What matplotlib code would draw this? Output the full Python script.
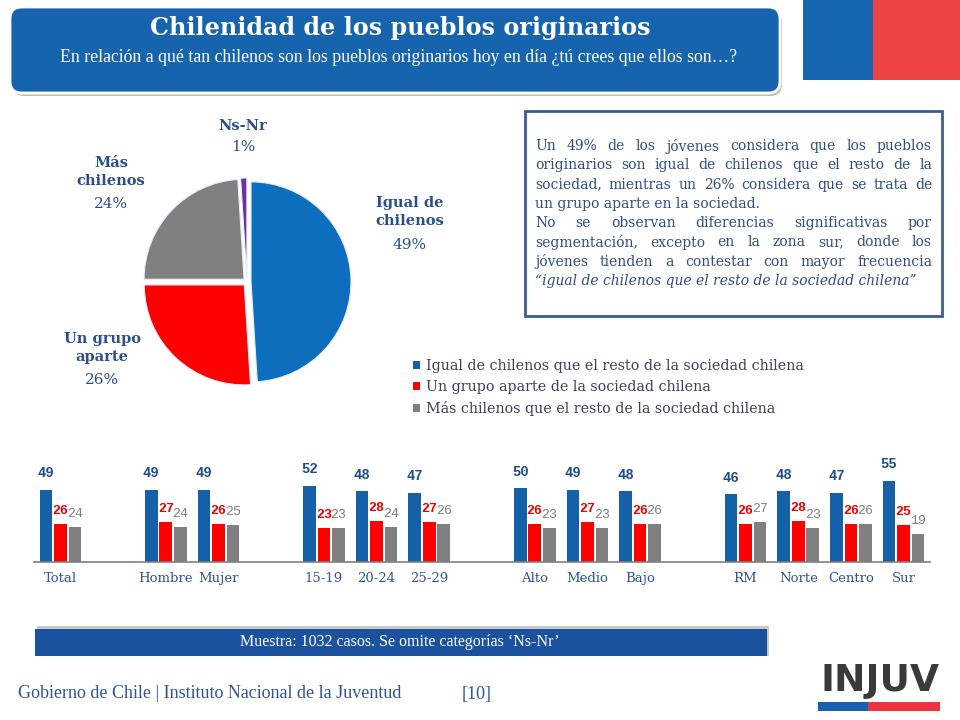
import matplotlib
matplotlib.use('Agg')
import matplotlib.pyplot as plt
from matplotlib import font_manager
from matplotlib.patches import FancyBboxPatch, Rectangle
import numpy as np

# Pie data
pie_names = ["Igual de\nchilenos", "Un grupo\naparte", "Más\nchilenos", "Ns-Nr"]
pie_values = [49, 26, 24, 1]
pie_colors = ["#0E6EBE", "#FF0000", "#808080", "#7030A0"]

# Bar data
categories = ["Total", "Hombre", "Mujer", "15-19", "20-24", "25-29",
              "Alto", "Medio", "Bajo", "RM", "Norte", "Centro", "Sur"]
group_sizes = [1, 2, 3, 3, 4]
igual = [49, 49, 49, 52, 48, 47, 50, 49, 48, 46, 48, 47, 55]
grupo = [26, 27, 26, 23, 28, 27, 26, 27, 26, 26, 28, 26, 25]
mas = [24, 24, 25, 23, 24, 26, 23, 23, 26, 27, 23, 26, 19]
series_names = ["Igual de chilenos que el resto de la sociedad chilena",
                "Un grupo aparte de la sociedad chilena",
                "Más chilenos que el resto de la sociedad chilena"]

TXT_BLUE = "#2A4F8C"
SERIF = "DejaVu Serif"
available = {f.name for f in font_manager.fontManager.ttflist}
NARROW_SERIF = "Liberation Serif" if "Liberation Serif" in available else SERIF
NARROW_SANS = "Liberation Sans Narrow" if "Liberation Sans Narrow" in available else "DejaVu Sans"
MONO = "Liberation Mono" if "Liberation Mono" in available else "DejaVu Sans Mono"

fig = plt.figure(figsize=(9.6, 7.2), dpi=100)
fig.patch.set_facecolor("white")

# background axes in pixel units (x right, y down)
bg = fig.add_axes([0, 0, 1, 1])
bg.set_xlim(0, 960)
bg.set_ylim(720, 0)
bg.axis("off")

# header
bg.add_patch(FancyBboxPatch((12, 10), 770, 86, boxstyle="round,pad=0,rounding_size=12",
                            fc="#BFBFBF", ec="none", zorder=1))
bg.add_patch(FancyBboxPatch((10, 7), 770, 86, boxstyle="round,pad=0,rounding_size=12",
                            fc="#1764AE", ec="white", lw=2, zorder=2))
bg.text(400, 28, "Chilenidad de los pueblos originarios", color="white", fontsize=17.2,
        fontweight="bold", family=SERIF, ha="center", va="center", zorder=3)
bg.text(399, 57, "En relación a qué tan chilenos son los pueblos originarios hoy en día ¿tú crees que ellos son…?",
        color="white", fontsize=12.8, family=NARROW_SERIF, ha="center", va="center", zorder=3)

# flag
bg.add_patch(Rectangle((803, 0), 70, 80, fc="#1565B0", ec="none"))
bg.add_patch(Rectangle((873, 0), 87, 80, fc="#EF4444", ec="none"))

# comment box
bg.add_patch(Rectangle((525, 111), 417, 205, fc="white", ec="#3C5D93", lw=2))
box_lines = [
    ("Un 49% de los jóvenes considera que los pueblos", True, "normal"),
    ("originarios son igual de chilenos que el resto de la", True, "normal"),
    ("sociedad, mientras un 26% considera que se trata de", True, "normal"),
    ("un grupo aparte en la sociedad.", False, "normal"),
    ("No se observan diferencias significativas por", True, "normal"),
    ("segmentación, excepto en la zona sur, donde los", True, "normal"),
    ("jóvenes tienden a contestar con mayor frecuencia", True, "normal"),
    ("“igual de chilenos que el resto de la sociedad chilena”", False, "italic"),
]
renderer = fig.canvas.get_renderer()
x0, x1 = 535, 932
for i, (line, just, style) in enumerate(box_lines):
    y = 146 + i * 19.3
    kw = dict(fontsize=10, family=SERIF, color="#2E4E86", style=style, va="center", ha="left")
    if not just:
        bg.text(x0, y, line, **kw)
        continue
    words = line.split(" ")
    objs = [bg.text(0, y, w, **kw) for w in words]
    widths = [o.get_window_extent(renderer).width for o in objs]
    gap = (x1 - x0 - sum(widths)) / (len(words) - 1)
    x = x0
    for o, w in zip(objs, widths):
        o.set_x(x)
        x += w + gap

# pie
pax = fig.add_axes([(247 - 150) / 960, 1 - (282 + 150) / 720, 300 / 960, 300 / 720])
pax.pie(pie_values, colors=pie_colors, startangle=90, counterclock=False,
        explode=[0.04] * 4, radius=1,
        wedgeprops=dict(edgecolor="#E8EEF6", linewidth=0.8))
pax.set_xlim(-1.5, 1.5)
pax.set_ylim(-1.5, 1.5)
pax.axis("off")

label_pos = [(410, 212, 245), (102, 348, 380), (111, 172, 204), (243, 126, 147)]
for name, v, (lx, ny, py) in zip(pie_names, pie_values, label_pos):
    bg.text(lx, ny, name, ha="center", va="center", fontsize=10.5, fontweight="bold",
            family=SERIF, color=TXT_BLUE, linespacing=1.45)
    bg.text(lx, py, f"{v}%", ha="center", va="center", fontsize=11,
            family=SERIF, color=TXT_BLUE)

# bars
pos = []
slot = 0
for g in group_sizes:
    for _ in range(g):
        pos.append(slot)
        slot += 1
    slot += 1
pos = np.array(pos)

bax = fig.add_axes([34 / 960, 1 - 562 / 720, (930 - 34) / 960, 100 / 720])
w = 0.24
off = 0.275
b1 = bax.bar(pos - off, igual, w, color="#1461A9", label=series_names[0])
b2 = bax.bar(pos, grupo, w, color="#FF0000", label=series_names[1])
b3 = bax.bar(pos + off, mas, w, color="#808080", label=series_names[2])
bax.bar_label(b1, padding=7, fontsize=10, fontweight="bold", family=MONO, color="#1F4E8C")
bax.bar_label(b2, padding=5, fontsize=9.5, fontweight="bold", family=MONO, color="#EE0000")
bax.bar_label(b3, padding=5, fontsize=9.5, family=MONO, color="#7F7F7F")
bax.set_xlim(-0.5, slot - 1.5)
bax.set_ylim(0, 68)
bax.set_xticks(pos)
bax.set_xticklabels(categories, family=SERIF, fontsize=9.5, color="#2F5597")
bax.tick_params(axis="x", length=0, pad=7)
bax.set_yticks([])
for s in ["top", "right", "left"]:
    bax.spines[s].set_visible(False)
bax.spines["bottom"].set_color("#808080")
bax.spines["bottom"].set_linewidth(1.2)
bax.patch.set_alpha(0)

leg = fig.legend(handles=[b1, b2, b3], loc="upper left",
                 bbox_to_anchor=(400 / 960, 1 - 346 / 720), frameon=False,
                 handlelength=0.5, handleheight=0.5, handletextpad=0.45,
                 labelspacing=0.5, prop=dict(family=SERIF, size=10.3))
for t in leg.get_texts():
    t.set_color("#3B3F5C")

# sample note
bg.add_patch(Rectangle((37, 626), 732, 30, fc="#C8C8C8", ec="none"))
bg.add_patch(Rectangle((35, 629), 732, 27, fc="#1B52A0", ec="none"))
bg.text(400, 642, "Muestra: 1032 casos. Se omite categorías ‘Ns-Nr’", color="white",
        fontsize=11.5, family=NARROW_SERIF, ha="center", va="center")

# footer
bg.text(18, 694, "Gobierno de Chile | Instituto Nacional de la Juventud", color="#2F5597",
        fontsize=13, family=NARROW_SERIF, ha="left", va="center")
bg.text(462, 694, "[10]", color="#2F5597", fontsize=13, family=NARROW_SERIF,
        ha="left", va="center")

# INJUV logo
bg.text(880, 681, "INJUV", color="#3A3A3A", fontsize=27, fontweight="bold",
        family=NARROW_SANS, ha="center", va="center")
bg.add_patch(Rectangle((818, 702), 50, 9, fc="#1560B0", ec="none"))
bg.add_patch(Rectangle((868, 702), 72, 9, fc="#EF3340", ec="none"))

fig.savefig("out.png", dpi=100)
